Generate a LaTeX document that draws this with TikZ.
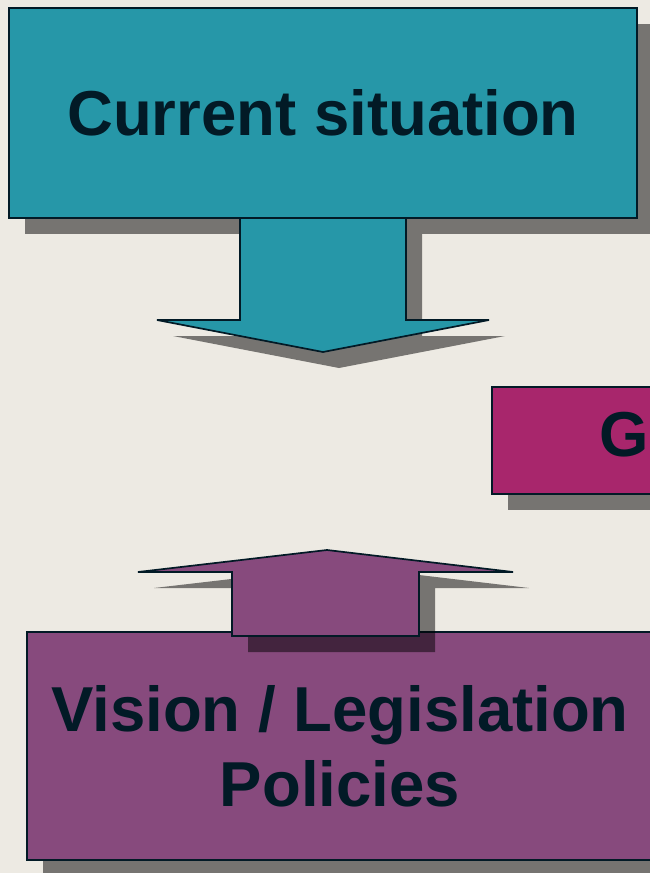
\documentclass[tikz,border=0pt]{standalone}
\usepackage{fontspec}
\setmainfont{Liberation Sans}
\usetikzlibrary{shadows}
\definecolor{bgpaper}{RGB}{237,234,227}
\definecolor{tealbox}{RGB}{38,151,168}
\definecolor{plumbox}{RGB}{168,38,108}
\definecolor{mauvebox}{RGB}{135,74,125}
\definecolor{inkblue}{RGB}{2,26,38}
\tikzset{
  boxshadow/.style={drop shadow={shadow xshift=16pt, shadow yshift=-16pt, fill=black, opacity=0.5}},
  bigbox/.style={draw=inkblue, line width=1.7pt, text=inkblue, inner sep=0pt, align=center,
    font=\fontsize{63.5}{75}\selectfont\bfseries, boxshadow},
  blockarrow/.style={draw=inkblue, line width=1.7pt, line join=miter, boxshadow}
}
\begin{document}
\begin{tikzpicture}[x=1pt, y=-1pt]
  \useasboundingbox (0, 0) rectangle (650, 873);
  \fill[bgpaper] (0, 0) rectangle (650, 873);
  \clip (0, 0) rectangle (650, 873);
  % top box and its arrow down
  \node[bigbox, fill=tealbox, minimum width=628pt, minimum height=210pt] (current) at (323, 113) {Current situation};
  \fill[blockarrow, fill=tealbox] (240, 218) -- (240, 320) -- (157, 320) -- (323, 352)
    -- (489, 320) -- (406, 320) -- (406, 218) -- cycle;
  % box on the right, cut by the page edge
  \node[bigbox, fill=plumbox, anchor=west, inner xsep=108pt, minimum height=107pt] (gap) at (491, 440.5) {Gap};
  % bottom box and its arrow up
  \node[bigbox, fill=mauvebox, minimum width=626pt, minimum height=228pt] (vision) at (340, 746) {Vision / Legislation\\Policies};
  \fill[blockarrow, fill=mauvebox] (232, 636) -- (232, 572) -- (138, 572) -- (327, 550)
    -- (513, 572) -- (419, 572) -- (419, 636) -- cycle;
\end{tikzpicture}
\end{document}
